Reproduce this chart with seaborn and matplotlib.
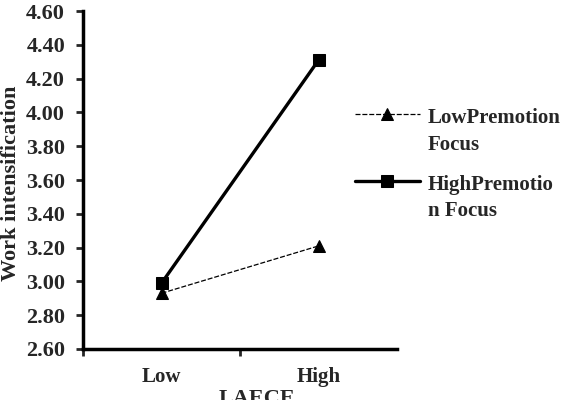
import matplotlib
matplotlib.use("Agg")
import matplotlib.pyplot as plt
import seaborn as sns
import pandas as pd

# chart values
categories = ["Low", "High"]
low_focus = [2.93, 3.21]
high_focus = [2.99, 4.31]
series_names = ["LowPremotion\nFocus", "HighPremotio\nn Focus"]
y_ticks = [2.60, 2.80, 3.00, 3.20, 3.40, 3.60, 3.80, 4.00, 4.20, 4.40, 4.60]

df = pd.DataFrame({
    "pos": [0, 1, 0, 1],
    "value": low_focus + high_focus,
    "series": [series_names[0]] * 2 + [series_names[1]] * 2,
})

sns.set_style("white")
plt.rcParams["font.family"] = ["Liberation Serif", "DejaVu Serif"]
plt.rcParams["font.weight"] = "bold"

fig = plt.figure(figsize=(5.69, 4.00), dpi=100)
ax = fig.add_axes([0.146, 0.1275, 0.552, 0.845])

styles = {
    series_names[0]: dict(marker="^", linestyle=(0, (4, 1.5)), linewidth=0.9, markersize=8),
    series_names[1]: dict(marker="s", linestyle="-", linewidth=2.4, markersize=8),
}
for name in series_names:
    sub = df[df["series"] == name]
    sns.lineplot(data=sub, x="pos", y="value", ax=ax, color="black",
                 label=name, markeredgecolor="black", **styles[name])

ax.set_xlim(-0.5, 1.5)
ax.set_ylim(2.60, 4.60)
ax.set_yticks(y_ticks)
ax.set_yticklabels([f"{t:.2f}" for t in y_ticks])
ax.set_xticks([-0.5, 0.5])
ax.set_xticklabels([])
ax.set_xticks([0, 1], minor=True)
ax.set_xticklabels(categories, minor=True)
ax.tick_params(axis="x", which="minor", length=0, pad=13, labelsize=15)
ax.tick_params(axis="x", which="major", direction="out", length=5, width=2, bottom=True)
ax.tick_params(axis="y", direction="out", length=5, width=2, left=True, labelsize=16, pad=8)

for side in ["top", "right"]:
    ax.spines[side].set_visible(False)
for side in ["left", "bottom"]:
    ax.spines[side].set_linewidth(2.5)
    ax.spines[side].set_color("black")

ax.set_xlabel("LAECE", fontsize=16, fontweight="bold")
ax.xaxis.set_label_coords(0.554, -0.118)
ax.xaxis.label.set_verticalalignment("top")
ax.set_ylabel("Work intensification", fontsize=16, fontweight="bold")
ax.yaxis.set_label_coords(-0.197, 0.491)

leg = ax.legend(loc="upper left", bbox_to_anchor=(355 / 569, 1 - 108 / 400),
                bbox_transform=fig.transFigure, frameon=False,
                fontsize=15, handlelength=3.1, handletextpad=0.38, labelspacing=0.95,
                borderaxespad=0, borderpad=0)
for t in leg.get_texts():
    t.set_fontweight("bold")
    t.set_linespacing(1.45)
# put each legend sample level with the first line of its label
for h in leg.legend_handles:
    h.set_ydata([y + 12.5 for y in h.get_ydata()])

fig.savefig("out.png", dpi=100)
